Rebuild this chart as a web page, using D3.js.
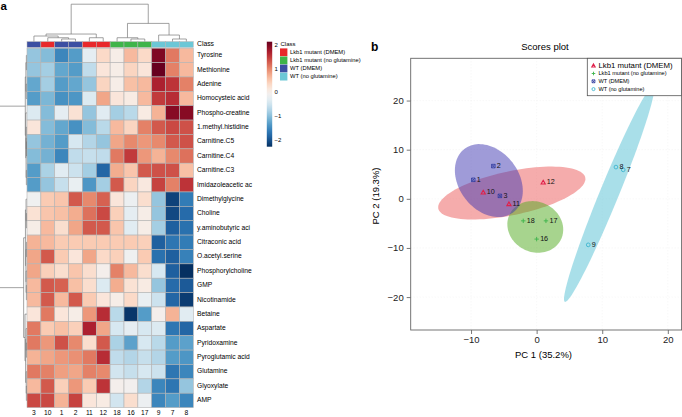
<!DOCTYPE html>
<html><head><meta charset="utf-8">
<script src="https://cdn.jsdelivr.net/npm/d3@7"></script>
<style>body{margin:0;background:#fff}svg{display:block;font-family:"Liberation Sans",Arial,Helvetica,sans-serif}</style>
</head><body><svg id="c" width="682" height="417"></svg>
<script>
// ---------- DATA ----------
const metabolites = ["Tyrosine","Methionine","Adenine","Homocysteic acid","Phospho-creatine","1.methyl.histidine","Carnitine.C5","Carnitine.C4","Carnitine.C3","Imidazoleacetic ac","Dimethylglycine","Choline","y.aminobutyric aci","Citraconic acid","O.acetyl.serine","Phosphorylcholine","GMP","Nicotinamide","Betaine","Aspartate","Pyridoxamine","Pyroglutamic acid","Glutamine","Glyoxylate","AMP"];
const sampleOrder = ["3","10","1","2","11","12","18","16","17","9","7","8"];
const classNames = ["Lkb1 mutant (DMEM)","Lkb1 mutant (no glutamine)","WT (DMEM)","WT (no glutamine)"];
const classColors = ["#E8282B","#3FB44A","#3C4FA2","#6CC7D6"];
const sampleClass = [2,0,2,2,0,0,1,1,1,3,3,3];
const zValues = [
 [-0.9,-1.0,-1.5,-1.3,-0.25,0.35,0.05,0.65,0.35,2.0,1.1,0.65],
 [-0.9,-0.8,-1.2,-1.3,-0.6,0.2,0.05,0.4,0.2,2.14,1.05,0.65],
 [-1.2,-0.8,-1.3,-1.2,-0.9,0.4,0.05,0.6,0.65,1.7,1.55,1.05],
 [-1.3,-1.05,-1.4,-1.35,-0.35,0.8,0.2,0.1,0.65,1.5,1.6,0.65],
 [-0.35,-1.0,-0.25,0.25,-0.9,-0.3,-0.8,-0.65,0.1,0.7,1.95,1.95],
 [0.2,-1.0,-1.2,-1.4,-1.0,-0.65,0.65,0.4,1.05,1.3,1.4,1.35],
 [-0.9,-1.1,-1.3,-0.4,-0.7,-0.9,0.8,1.0,0.9,1.0,1.3,1.35],
 [-1.0,-1.1,-1.5,-0.6,-0.55,-0.6,1.1,1.5,0.9,0.7,1.0,1.15],
 [-1.3,-0.75,-0.3,-0.5,-0.8,-1.8,0.75,0.55,1.3,1.35,1.35,0.6],
 [-1.3,-0.9,-0.55,-0.2,-1.35,-0.8,1.3,0.4,0.15,1.45,1.05,1.55],
 [-0.1,0.5,0.55,1.3,1.0,1.25,0.2,-0.15,0.3,-0.9,-2.1,-1.6],
 [0.25,0.55,0.6,0.75,1.15,1.4,0.45,-0.25,0.05,-0.9,-2.05,-1.75],
 [0.05,0.65,0.3,0.8,1.3,1.3,0.55,-0.3,0.05,-0.8,-1.85,-1.7],
 [0.7,0.65,0.5,0.5,0.5,0.5,0.5,0.5,0.45,-1.85,-1.65,-1.6],
 [0.8,1.3,0.5,0.2,0.8,0.35,0.45,-0.1,0.5,-1.7,-1.85,-1.55],
 [0.8,0.45,0.3,0.55,0.3,0.0,1.05,0.65,0.3,-0.4,-1.85,-2.25],
 [0.65,1.3,1.25,0.6,0.3,-0.35,0.75,0.25,0.1,-0.9,-1.75,-1.9],
 [0.65,1.3,0.65,1.3,0.5,0.2,0.05,0.35,-0.2,-0.5,-1.8,-2.15],
 [0.2,1.1,0.2,0.05,0.9,1.6,-0.65,-2.2,-1.3,0.0,0.7,-0.3],
 [1.1,0.5,0.6,0.45,1.7,0.8,-0.4,-0.25,-0.4,-0.35,-1.65,-1.8],
 [1.1,0.9,1.35,1.0,0.3,1.3,-0.75,-1.25,-0.4,-0.65,-1.3,-1.25],
 [0.7,0.8,0.9,0.95,1.1,1.6,-0.6,-0.7,-0.55,-0.7,-1.3,-1.35],
 [1.1,1.05,0.85,0.8,1.05,1.0,-0.45,-0.55,-0.4,-0.5,-1.65,-1.5],
 [0.65,1.3,0.45,0.9,0.5,1.55,0.0,-0.05,-0.7,-1.5,-1.65,-0.9],
 [1.4,1.4,0.7,1.45,0.2,0.1,-0.45,0.3,-0.15,-1.5,-1.3,-1.5]
];
// dendrograms: [mergeHeight, left, right]; leaves are column / row indices
const colTree = [37.5, [7.5, [5.5, 0, [3.8, 1, [2.5, 2, 3]]], [3.8, 4, 5]], [18.2, [3.8, 6, [2.5, 7, 8]], [6.5, 9, [2.5, 10, 11]]]];
const rowTree = [20,
  [1.0, [0.6, [0.3, 0, 1], [0.4, 2, 3]], [0.7, 4, [0.5, [0.4, 5, [0.2, 6, 7]], [0.3, 8, 9]]]],
  [2.1, [0.9, [0.5, 10, [0.3, 11, 12]], [0.6, [0.3, 13, 14], [0.5, 15, [0.3, 16, 17]]]],
        [1.2, 18, [0.8, [0.5, 19, [0.3, 20, 21]], [0.4, 22, [0.3, 23, 24]]]]]];
const colorTicks = [2, 1, 0, -1, -2];

const scoreIds = ["1","2","3","10","11","12","16","17","18","7","8","9"];
const pc1 = [-9.66,-6.6,-5.6,-8.14,-4.22,1.0,0.0,1.42,-2.04,13.2,12.09,7.87];
const pc2 = [3.87,6.66,0.6,1.28,-1.08,3.32,-8.2,-4.48,-4.48,5.9,6.46,-9.37];
const scoreGroup = [2,2,2,0,0,0,1,1,1,3,3,3];
const ellipseFill = ["#EC5A5A","#50AA1E","#3F37B1","#53BFD3"];
const markerColors = ["#E0204A","#3CB44B","#2E3A9E","#3EB6CF"];
const pcTicks = [-20, -10, 0, 10, 20];

// ---------- SETUP ----------
const svg = d3.select("#c");
const F = '"Liberation Sans",Arial,sans-serif';

// ---------- PANEL A: HEATMAP ----------
const x = d3.scaleBand().domain(d3.range(sampleOrder.length)).range([27, 193.3]);
const y = d3.scaleBand().domain(d3.range(metabolites.length)).range([48.2, 407.6]);
const zExt = d3.extent(zValues.flat());
const color = d3.scaleSequential(t => d3.interpolateRdBu(1 - t)).domain(zExt);

const cells = [];
zValues.forEach((row, i) => row.forEach((v, j) => cells.push({i, j, v})));
svg.append("g").selectAll("rect").data(cells).join("rect")
  .attr("x", d => x(d.j)).attr("y", d => y(d.i))
  .attr("width", x.bandwidth()).attr("height", y.bandwidth())
  .attr("fill", d => color(d.v)).attr("stroke", "#b4b4b4").attr("stroke-width", 0.6);

// class annotation bar
svg.append("g").selectAll("rect").data(sampleClass).join("rect")
  .attr("x", (d, j) => x(j)).attr("y", 41.6).attr("width", x.bandwidth()).attr("height", 5.8)
  .attr("fill", d => classColors[d]).attr("stroke", "#b4b4b4").attr("stroke-width", 0.5);

svg.append("text").attr("x", 197).attr("y", 44.5).attr("dominant-baseline", "middle")
  .attr("font-size", 6.8).text("Class");
svg.append("g").selectAll("text").data(metabolites).join("text")
  .attr("x", 197).attr("y", (d, i) => y(i) + y.bandwidth() / 2).attr("dominant-baseline", "middle")
  .attr("font-size", 6.7).text(d => d);
svg.append("g").selectAll("text").data(sampleOrder).join("text")
  .attr("x", (d, j) => x(j) + x.bandwidth() / 2).attr("y", 413).attr("dominant-baseline", "middle")
  .attr("text-anchor", "middle").attr("font-size", 6.7).text(d => d);

// dendrograms
function drawTree(g, node, posFn, pathFn) {
  if (typeof node === "number") return {pos: posFn(node), h: 0};
  const a = drawTree(g, node[1], posFn, pathFn), b = drawTree(g, node[2], posFn, pathFn);
  g.append("path").attr("d", pathFn(a, b, node[0]));
  return {pos: (a.pos + b.pos) / 2, h: node[0]};
}
const colH = d3.scaleLinear().domain([0, 37.5]).range([41.5, 4.2]);
const gCol = svg.append("g").attr("fill", "none").attr("stroke", "#7a7a7a").attr("stroke-width", 0.7);
drawTree(gCol, colTree, j => x(j) + x.bandwidth() / 2,
  (a, b, h) => `M${a.pos},${colH(a.h)}V${colH(h)}H${b.pos}V${colH(b.h)}`);
const rowH = d3.scaleLinear().domain([0, 10]).range([26.8, 11.8]);
const gRow = svg.append("g").attr("fill", "none").attr("stroke", "#7a7a7a").attr("stroke-width", 0.7);
drawTree(gRow, rowTree, i => y(i) + y.bandwidth() / 2,
  (a, b, h) => `M${rowH(a.h)},${a.pos}H${rowH(h)}V${b.pos}H${rowH(b.h)}`);

// colour bar legend
const cb = d3.scaleLinear().domain(zExt).range([146.7, 41.7]);
const defs = svg.append("defs");
const grad = defs.append("linearGradient").attr("id", "cbg").attr("x1", 0).attr("y1", 1).attr("x2", 0).attr("y2", 0);
d3.range(0, 1.0001, 0.05).forEach(t => grad.append("stop").attr("offset", t)
  .attr("stop-color", color(zExt[0] + t * (zExt[1] - zExt[0]))));
svg.append("rect").attr("x", 266.8).attr("y", cb(zExt[1])).attr("width", 5.4)
  .attr("height", cb(zExt[0]) - cb(zExt[1])).attr("fill", "url(#cbg)");
svg.append("g").selectAll("text").data(colorTicks).join("text")
  .attr("x", 274.5).attr("y", d => cb(d)).attr("dominant-baseline", "middle")
  .attr("font-size", 6).text(d => d3.format("")(d));

// class legend
svg.append("text").attr("x", 280.5).attr("y", 44.2).attr("dominant-baseline", "middle").attr("font-size", 6).text("Class");
const cl = svg.append("g").selectAll("g").data(classNames).join("g");
cl.append("rect").attr("x", 280).attr("y", (d, i) => 48.4 + i * 8.1).attr("width", 7.4).attr("height", 7.8)
  .attr("fill", (d, i) => classColors[i]);
cl.append("text").attr("x", 290).attr("y", (d, i) => 52.4 + i * 8.1).attr("dominant-baseline", "middle")
  .attr("font-size", 5.8).text(d => d);

svg.append("text").attr("x", 0.5).attr("y", 9.5).attr("font-size", 11.5).attr("font-weight", "bold").text("a");

// ---------- PANEL B: SCORES PLOT ----------
const L = 410.7, R = 681.6, T = 58.3, B = 330;
const sx = d3.scaleLinear().domain([-19.2, 22.1]).range([L, R]);
const sy = d3.scaleLinear().domain([-26.7, 28.6]).range([B, T]);
const inX = pcTicks.filter(v => v >= sx.domain()[0] && v <= sx.domain()[1]);
const inY = pcTicks.filter(v => v >= sy.domain()[0] && v <= sy.domain()[1]);

svg.append("text").attr("x", 371).attr("y", 50.5).attr("font-size", 12).attr("font-weight", "bold").text("b");
svg.append("text").attr("x", 545).attr("y", 50).attr("text-anchor", "middle").attr("font-size", 9.5).text("Scores plot");

defs.append("clipPath").attr("id", "pc").append("rect").attr("x", L).attr("y", T).attr("width", R - L).attr("height", B - T);

// faint grid
const grid = svg.append("g").attr("stroke", "#eeeeee").attr("stroke-width", 0.6).attr("stroke-dasharray", "1,2");
grid.selectAll(".gx").data(inX).join("line").attr("x1", d => sx(d)).attr("x2", d => sx(d)).attr("y1", T).attr("y2", B);
grid.selectAll(".gy").data(inY).join("line").attr("y1", d => sy(d)).attr("y2", d => sy(d)).attr("x1", L).attr("x2", R);

// 95% confidence ellipses computed from the group scores
function ellipsePts(xs, ys) {
  const n = xs.length, mx = d3.mean(xs), my = d3.mean(ys);
  let sxx = 0, syy = 0, sxy = 0;
  for (let k = 0; k < n; k++) { const dx = xs[k] - mx, dy = ys[k] - my; sxx += dx * dx; syy += dy * dy; sxy += dx * dy; }
  sxx /= n - 1; syy /= n - 1; sxy /= n - 1;
  const tr = sxx + syy, det = sxx * syy - sxy * sxy, disc = Math.sqrt(Math.max(0, tr * tr / 4 - det));
  const l1 = tr / 2 + disc, l2 = Math.max(0, tr / 2 - disc);
  let v1 = Math.abs(sxy) > 1e-12 ? [sxy, l1 - sxx] : (sxx >= syy ? [1, 0] : [0, 1]);
  const nv = Math.hypot(v1[0], v1[1]); v1 = [v1[0] / nv, v1[1] / nv];
  const v2 = [-v1[1], v1[0]], k95 = Math.sqrt(5.991);
  return d3.range(0, 101).map(s => {
    const t = s / 100 * 2 * Math.PI, a = k95 * Math.sqrt(l1) * Math.cos(t), b = k95 * Math.sqrt(l2) * Math.sin(t);
    return [sx(mx + a * v1[0] + b * v2[0]), sy(my + a * v1[1] + b * v2[1])];
  });
}
const eg = svg.append("g").attr("clip-path", "url(#pc)");
classNames.forEach((c, gi) => {
  const idx = d3.range(scoreIds.length).filter(k => scoreGroup[k] === gi);
  const pts = ellipsePts(idx.map(k => pc1[k]), idx.map(k => pc2[k]));
  eg.append("path").attr("d", d3.line()(pts) + "Z").attr("fill", ellipseFill[gi]).attr("fill-opacity", 0.5);
});

// markers
function marker(g, gi, cx, cy, s) {
  const col = markerColors[gi];
  if (gi === 0) g.append("path").attr("d", `M${cx},${cy - s}L${cx + s * 0.95},${cy + s * 0.7}L${cx - s * 0.95},${cy + s * 0.7}Z`)
    .attr("fill", "none").attr("stroke", col).attr("stroke-width", 1.1);
  else if (gi === 1) g.append("path").attr("d", `M${cx - s},${cy}H${cx + s}M${cx},${cy - s}V${cy + s}`)
    .attr("stroke", col).attr("stroke-width", 0.9);
  else if (gi === 2) g.append("path").attr("d", `M${cx - s * 0.8},${cy - s * 0.8}h${1.6 * s}v${1.6 * s}h${-1.6 * s}Z M${cx - s * 0.8},${cy - s * 0.8}L${cx + s * 0.8},${cy + s * 0.8}M${cx + s * 0.8},${cy - s * 0.8}L${cx - s * 0.8},${cy + s * 0.8}`)
    .attr("fill", "none").attr("stroke", col).attr("stroke-width", 0.8);
  else g.append("circle").attr("cx", cx).attr("cy", cy).attr("r", s * 0.85).attr("fill", "none").attr("stroke", col).attr("stroke-width", 0.9);
}
const mg = svg.append("g");
scoreIds.forEach((id, k) => {
  const cx = sx(pc1[k]), cy = sy(pc2[k]);
  marker(mg, scoreGroup[k], cx, cy, 2.2);
  mg.append("text").attr("x", cx + 3.5).attr("y", cy).attr("dominant-baseline", "middle")
    .attr("font-size", 7.2).attr("fill", "#111").text(id);
});

// axes
const ax = svg.append("g").attr("transform", `translate(0,${B})`)
  .call(d3.axisBottom(sx).tickValues(inX).tickSize(4).tickPadding(2.5));
const ay = svg.append("g").attr("transform", `translate(${L},0)`)
  .call(d3.axisLeft(sy).tickValues(inY).tickSize(4).tickPadding(3));
[ax, ay].forEach(g => {
  g.select(".domain").remove();
  g.selectAll("line").attr("stroke", "#555").attr("stroke-width", 0.8);
  g.selectAll("text").attr("font-size", 9.5).attr("font-family", F).attr("fill", "#222");
});
svg.append("rect").attr("x", L).attr("y", T).attr("width", R - L).attr("height", B - T)
  .attr("fill", "none").attr("stroke", "#666").attr("stroke-width", 0.9);
svg.append("text").attr("x", 543.5).attr("y", 358).attr("text-anchor", "middle").attr("font-size", 9.5).text("PC 1 (35.2%)");
svg.append("text").attr("transform", "translate(379,196) rotate(-90)").attr("text-anchor", "middle")
  .attr("font-size", 9.5).text("PC 2 (19.3%)");

// legend
const lg = svg.append("g");
lg.append("rect").attr("x", 587.3).attr("y", T).attr("width", R - 587.3).attr("height", 37.4)
  .attr("fill", "#fff").attr("stroke", "#555").attr("stroke-width", 0.8);
classNames.forEach((c, gi) => {
  const ly = 65.7 + gi * 7.8;
  marker(lg, gi, 593.5, ly, 1.8);
  lg.append("text").attr("x", 598.5).attr("y", ly).attr("dominant-baseline", "middle")
    .attr("font-size", gi === 0 ? 7.8 : 5.6).text(c);
});
</script></body></html>
